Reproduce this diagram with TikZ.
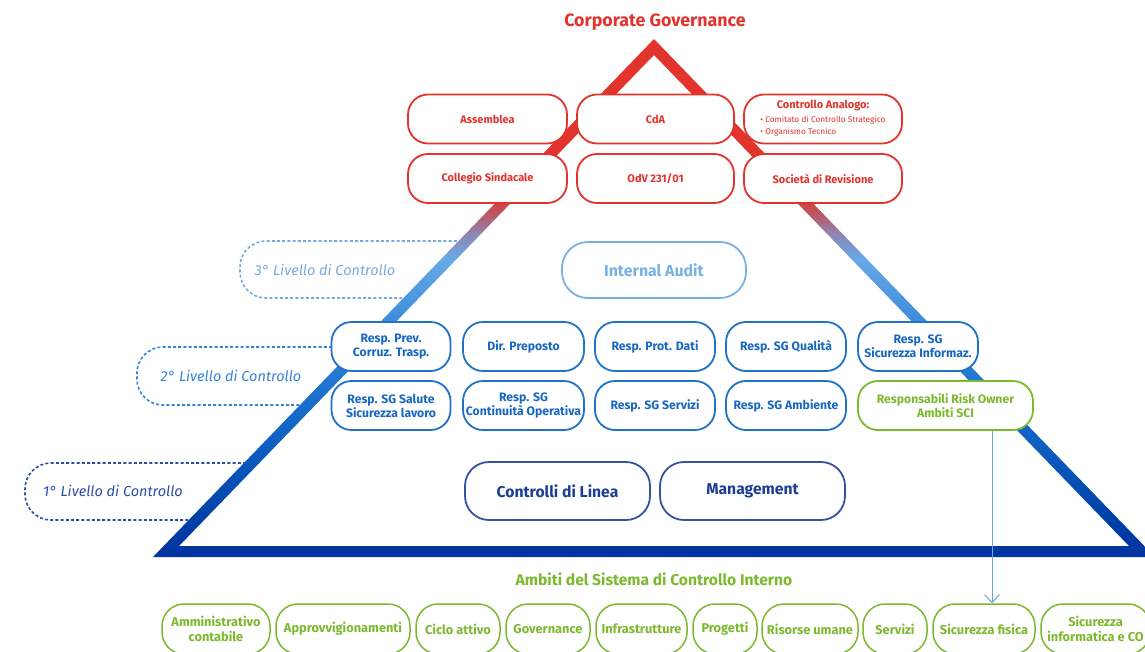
\documentclass[tikz,border=0pt]{standalone}
\usepackage{fontspec}
\setmainfont{Fira Sans}
\usetikzlibrary{arrows.meta}
\definecolor{cred}{HTML}{E2332D}
\definecolor{cblue}{HTML}{1F72C8}
\definecolor{cbluet}{HTML}{1767C2}
\definecolor{cia}{HTML}{7AB1E4}
\definecolor{lv3}{HTML}{76AADF}
\definecolor{lv2}{HTML}{3584D6}
\definecolor{lv1}{HTML}{2B4DA8}
\definecolor{cdark}{HTML}{3353A0}
\definecolor{cdarkt}{HTML}{1E3E92}
\definecolor{cgreen}{HTML}{7DB92E}
\definecolor{carrow}{HTML}{6AA8E0}
\definecolor{tb0}{HTML}{0033A0}
\definecolor{tb1}{HTML}{0040A8}
\definecolor{tb2}{HTML}{1268C8}
\definecolor{tb3}{HTML}{3D8CDA}
\definecolor{tb4}{HTML}{66AAE6}
\definecolor{tb5}{HTML}{8C88B4}
\definecolor{tb6}{HTML}{B85A6A}
\pgfdeclareverticalshading{trishade}{100bp}{color(0bp)=(tb0); color(25bp)=(tb0); color(28.6bp)=(tb1); color(38.2bp)=(tb2); color(47.9bp)=(tb3); color(53.7bp)=(tb4); color(56.1bp)=(tb5); color(58bp)=(tb6); color(59.9bp)=(cred); color(75bp)=(cred); color(100bp)=(cred)}
\tikzset{
  redbox/.style={draw=cred, line width=1.8pt, fill=white, rounded corners=20pt, minimum height=49pt, inner sep=0pt, text=cred, align=center, font=\bfseries\fontsize{11}{13}\selectfont},
  bluebox/.style={draw=cblue, line width=1.8pt, fill=white, rounded corners=20pt, minimum height=49pt, minimum width=119pt, inner sep=0pt, text=cbluet, align=center, font=\bfseries\fontsize{12.2}{14}\selectfont},
  riskbox/.style={draw=cgreen, line width=1.8pt, fill=white, rounded corners=20pt, minimum height=49pt, inner sep=0pt, text=cgreen, align=center, font=\bfseries\fontsize{12.2}{14}\selectfont},
  darkbox/.style={draw=cdark, line width=1.8pt, fill=white, rounded corners=24pt, minimum height=58pt, minimum width=185pt, inner sep=0pt, text=cdarkt, align=center, font=\bfseries\fontsize{15.7}{18}\selectfont},
  greenbox/.style={draw=cgreen, line width=1.5pt, fill=white, rounded corners=22pt, minimum height=50pt, inner sep=0pt, text=cgreen, align=center, font=\bfseries\fontsize{12.8}{15}\selectfont},
  lvltext/.style={font=\itshape\fontsize{14.5}{17}\selectfont, inner sep=0pt},
  lvlline/.style={line width=1.6pt, dash pattern=on 3pt off 2.2pt, rounded corners=26pt},
  titletext/.style={font=\bfseries\fontsize{17.8}{20}\selectfont, inner sep=0pt}
}
\begin{document}
\begin{tikzpicture}[x=1pt, y=-1pt]
\useasboundingbox (0,0) rectangle (1145,651);
% level labels (dashed)
\node[lvltext, text=lv3] (l3) at (325,270) {3° Livello di Controllo};
\node[lvltext, text=lv2] (l2) at (231,376) {2° Livello di Controllo};
\node[lvltext, text=lv1] (l1) at (113,491) {1° Livello di Controllo};
\draw[lvlline, draw=lv3] (462,241) -- (240,241) -- (240,298) -- (405,298);
\draw[lvlline, draw=lv2] (332,347) -- (137,347) -- (137,405) -- (301,405);
\draw[lvlline, draw=lv1] (246,463) -- (25,463) -- (25,520) -- (191,520);
% triangle
\shade[shading=trishade, even odd rule] (654,39) -- (1155,557) -- (153,557) -- cycle (654,55) -- (1129,546) -- (179,546) -- cycle;
% title
\node[titletext, text=cred] (cg) at (655,22) {Corporate Governance};
% red boxes
\node[redbox, minimum width=159pt] (ass) at (487.5,119) {Assemblea};
\node[redbox, minimum width=157pt] (cda) at (655.5,119) {CdA};
\node[redbox, minimum width=158pt] (ca) at (823,119) {Controllo Analogo:\\[2.5pt]{\mdseries\fontsize{8.3}{11.5}\selectfont\begin{tabular}{@{}l@{}}• Comitato di Controllo Strategico\\• Organismo Tecnico\end{tabular}}};
\node[redbox, minimum width=159pt] (cs) at (487.5,178.5) {Collegio Sindacale};
\node[redbox, minimum width=157pt] (odv) at (655.5,178.5) {OdV 231/01};
\node[redbox, minimum width=158pt] (sr) at (823,178.5) {Società di Revisione};
% internal audit
\node[draw=cia, line width=1.8pt, fill=white, rounded corners=26pt, minimum width=184pt, minimum height=56pt, text=cia, font=\bfseries\fontsize{15.9}{18}\selectfont] (ia) at (654,270) {Internal Audit};
% blue boxes
\node[bluebox] (b1) at (391,346.5) {Resp. Prev.\\Corruz. Trasp.};
\node[bluebox, minimum width=121pt] (b2) at (523.5,346.5) {Dir. Preposto};
\node[bluebox, minimum width=120pt] (b3) at (655,346.5) {Resp. Prot. Dati};
\node[bluebox, minimum width=120pt] (b4) at (786,346.5) {Resp. SG Qualità};
\node[bluebox, minimum width=120pt] (b5) at (918,346.5) {Resp. SG\\Sicurezza Informaz.};
\node[bluebox] (b6) at (391,405.5) {Resp. SG Salute\\Sicurezza lavoro};
\node[bluebox, minimum width=121pt] (b7) at (523.5,405.5) {Resp. SG\\Continuità Operativa};
\node[bluebox, minimum width=120pt] (b8) at (655,405.5) {Resp. SG Servizi};
\node[bluebox, minimum width=120pt] (b9) at (786,405.5) {Resp. SG Ambiente};
\node[riskbox, minimum width=175pt] (risk) at (945.5,405.5) {Responsabili Risk Owner\\Ambiti SCI};
% first level
\node[darkbox] (cl) at (557.5,491) {Controlli di Linea};
\node[darkbox] (mg) at (752.5,491) {Management};
% green section
\node[titletext, text=cgreen, font=\bfseries\fontsize{15.6}{18}\selectfont] (amb) at (654,579) {Ambiti del Sistema di Controllo Interno};
\node[greenbox, minimum width=108pt] (g1) at (216,629) {Amministrativo\\contabile};
\node[greenbox, minimum width=134pt] (g2) at (343,629) {Approvvigionamenti};
\node[greenbox, minimum width=84pt] (g3) at (458,629) {Ciclo attivo};
\node[greenbox, minimum width=84pt] (g4) at (548,629) {Governance};
\node[greenbox, minimum width=91pt] (g5) at (641.5,629) {Infrastrutture};
\node[greenbox, minimum width=64pt] (g6) at (725,629) {Progetti};
\node[greenbox, minimum width=96pt] (g7) at (810,629) {Risorse umane};
\node[greenbox, minimum width=64pt] (g8) at (895,629) {Servizi};
\node[greenbox, minimum width=102pt] (g9) at (984,629) {Sicurezza fisica};
\node[greenbox, minimum width=109pt] (g10) at (1095.5,629) {Sicurezza\\informatica e CO};
% arrow
\coordinate (ax) at (992,0);
\draw[carrow, line width=1pt, -{Straight Barb[length=8pt, width=15pt, line width=1pt]}] (risk.south -| ax) -- (g9.north -| ax);
\end{tikzpicture}
\end{document}
